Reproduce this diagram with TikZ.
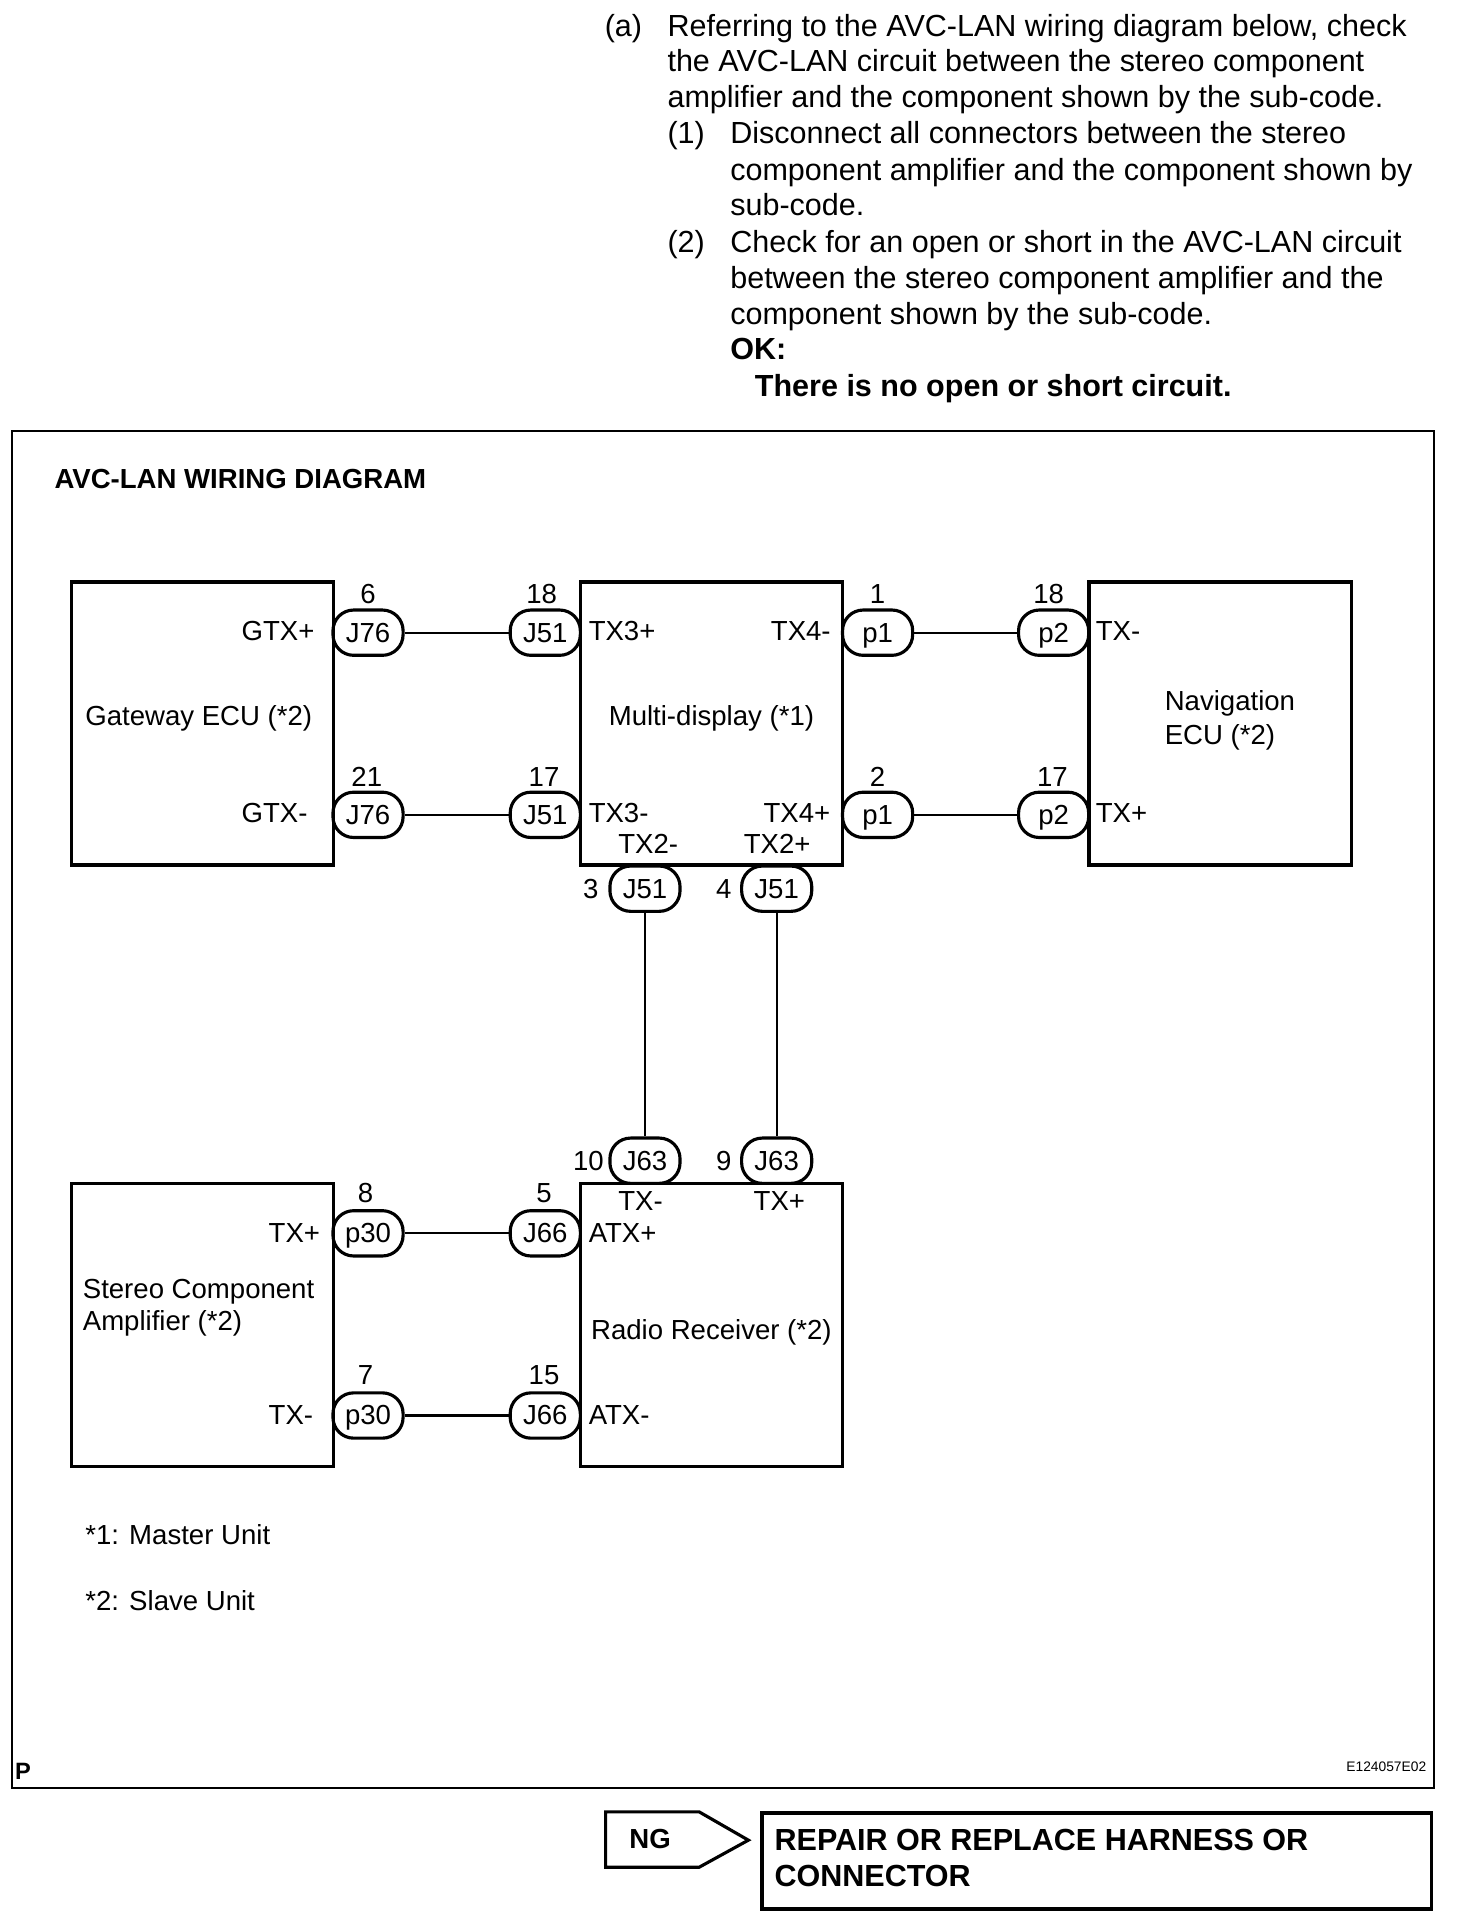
\documentclass[tikz,border=0pt]{standalone}
\usepackage{fontspec}
\setmainfont{Liberation Sans}
\usetikzlibrary{positioning}
\tikzset{
    unitbox/.style={draw, line width=1.9pt, minimum width=133.1pt, minimum height=143.7pt, inner sep=0pt},
    plug/.style={draw, line width=1.6pt, rounded corners=10.5pt, minimum width=35.6pt, minimum height=23pt, inner sep=0pt, text height=12.5pt, text depth=3pt, font=\fontsize{14}{16}\selectfont},
    wire/.style={line width=1.1pt},
    txt/.style={anchor=west, inner sep=0pt, text height=12.5pt, text depth=3pt, font=\fontsize{14}{16}\selectfont},
    mid/.style={inner sep=0pt, text height=12.5pt, text depth=3pt, font=\fontsize{14}{16}\selectfont},
    para/.style={anchor=west, inner sep=0pt, text height=13.5pt, text depth=3pt, font=\fontsize{15.5}{18}\selectfont},
    parabold/.style={para, font=\fontsize{15.5}{18}\selectfont\bfseries},
    head/.style={anchor=west, inner sep=0pt, text height=12.5pt, text depth=3pt, font=\fontsize{14}{16}\selectfont\bfseries},
    action/.style={anchor=west, inner sep=0pt, text height=13.5pt, text depth=3pt, font=\fontsize{15.5}{18}\selectfont\bfseries}
}
\begin{document}
\begin{tikzpicture}[x=0.625pt, y=-0.625pt]
    \useasboundingbox (0,0) rectangle (1196,1568);

    % instruction text
    \node[para] (stepa) at (491,21) {(a)};
    \node[para] (l1) at (542,21) {Referring to the AVC-LAN wiring diagram below, check};
    \node[para] (l2) at (542,50) {the AVC-LAN circuit between the stereo component};
    \node[para] (l3) at (542,79) {amplifier and the component shown by the sub-code.};
    \node[para] (step1) at (542,108) {(1)};
    \node[para] (l4) at (593,108) {Disconnect all connectors between the stereo};
    \node[para] (l5) at (593,138) {component amplifier and the component shown by};
    \node[para] (l6) at (593,167) {sub-code.};
    \node[para] (step2) at (542,197) {(2)};
    \node[para] (l7) at (593,197) {Check for an open or short in the AVC-LAN circuit};
    \node[para] (l8) at (593,226) {between the stereo component amplifier and the};
    \node[para] (l9) at (593,255) {component shown by the sub-code.};
    \node[parabold] (ok) at (593,284) {OK:};
    \node[parabold] (okline) at (613,314) {There is no open or short circuit.};

    % frame
    \draw[line width=1pt] (10,350) rectangle (1165,1453);
    \node[head] (title) at (44,389) {AVC-LAN WIRING DIAGRAM};
    \node[anchor=west, inner sep=0pt, font=\fontsize{12}{14}\selectfont\bfseries] (pmark) at (12,1439) {P};
    \node[anchor=east, inner sep=0pt, font=\fontsize{7}{8}\selectfont] (code) at (1159,1435) {E124057E02};

    % units
    \node[unitbox] (gateway) at (164.5,588) {};
    \node[unitbox] (multi) at (578,588) {};
    \node[unitbox] (navi) at (991.5,588) {};
    \node[unitbox] (stereo) at (164.5,1076.5) {};
    \node[unitbox] (radio) at (578,1076.5) {};

    \node[txt] (gatewaytxt) at (69,582) {Gateway ECU (*2)};
    \node[mid] (multitxt) at (578,582) {Multi-display (*1)};
    \node[txt] (navitxta) at (946,570) {Navigation};
    \node[txt] (navitxtb) at (946,597) {ECU (*2)};
    \node[txt] (stereotxta) at (67,1047) {Stereo Component};
    \node[txt] (stereotxtb) at (67,1073) {Amplifier (*2)};
    \node[mid] (radiotxt) at (578,1081) {Radio Receiver (*2)};

    % connectors
    \foreach \n/\x/\y/\t in {J76a/299/514/J76, J76b/299/662/J76, J51a/443/514/J51, J51b/443/662/J51,
            p1a/713/514/p1, p1b/713/662/p1, p2a/856/514/p2, p2b/856/662/p2,
            J51c/524/722/J51, J51d/631/722/J51, J63a/524/943/J63, J63b/631/943/J63,
            p30a/299/1002/p30, p30b/299/1150/p30, J66a/443/1002/J66, J66b/443/1150/J66}
        \node[plug] (\n) at (\x,\y) {\t};

    \draw[wire] (J76a) -- (J51a);
    \draw[wire] (J76b) -- (J51b);
    \draw[wire] (p1a) -- (p2a);
    \draw[wire] (p1b) -- (p2b);
    \draw[wire] (J51c) -- (J63a);
    \draw[wire] (J51d) -- (J63b);
    \draw[wire] (p30a) -- (J66a);
    \draw[wire] (p30b) -- (J66b);

    % pin numbers
    \foreach \n/\x/\y/\t in {pa/299/483/6, pb/440/483/18, pc/713/483/1, pd/852/483/18,
            pe/298/631/21, pf/442/631/17, pg/713/631/2, ph/855/631/17,
            pi/480/722/3, pj/588/722/4, pk/478/943/10, pl/588/943/9,
            pm/297/969/8, pn/442/969/5, po/297/1117/7, pp/442/1117/15}
        \node[mid] (\n) at (\x,\y) {\t};

    % pin names
    \foreach \n/\x/\y/\t in {sa/196/513/GTX+, sb/196/661/GTX-, sc/478/513/TX3+, sd/626/513/TX4-,
            se/478/661/TX3-, sf/620/661/TX4+, sg/502/686/TX2-, sh/604/686/TX2+,
            si/890/513/TX-, sj/890/661/TX+, sk/502/976/TX-, sl/612/976/TX+,
            sm/478/1002/ATX+, sn/478/1150/ATX-, so/218/1002/TX+, sp/218/1150/TX-}
        \node[txt] (\n) at (\x,\y) {\t};

    \node[txt] (notea) at (69,1247) {*1: Master Unit};
    \node[txt] (noteb) at (69,1301) {*2: Slave Unit};

    % result
    \draw[line width=1.6pt, line join=miter] (492,1472) -- (568,1472) -- (608,1495) -- (568,1517) -- (492,1517) -- cycle;
    \node[head] (ng) at (511,1494) {NG};
    \draw[line width=2pt] (619,1473) rectangle (1163,1551);
    \node[action] (repaira) at (629,1495) {REPAIR OR REPLACE HARNESS OR};
    \node[action] (repairb) at (629,1524) {CONNECTOR};
\end{tikzpicture}
\end{document}
